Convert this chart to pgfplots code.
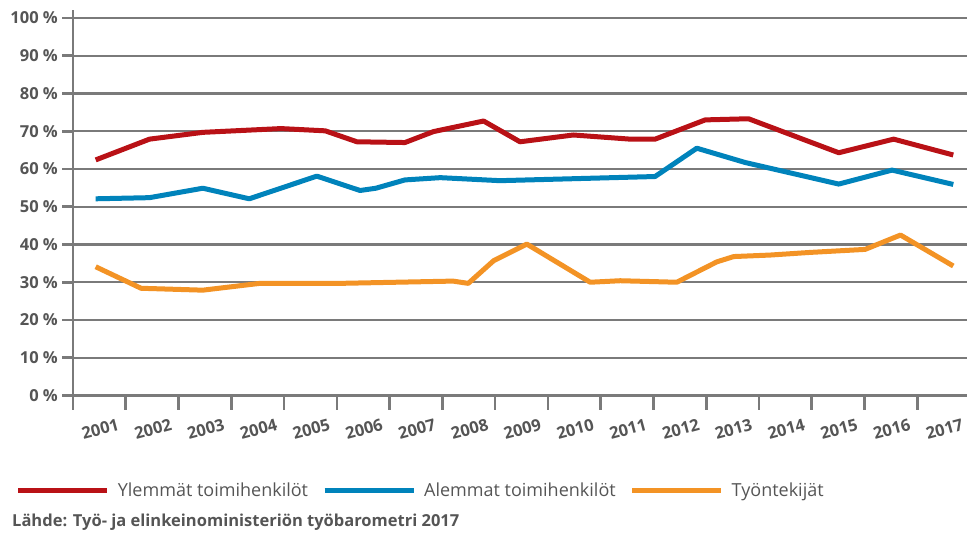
\documentclass[border=0pt]{standalone}
\usepackage{fontspec}
\setmainfont{Open Sans}
\usepackage{pgfplots}
\pgfplotsset{compat=1.18}

\definecolor{ylem}{HTML}{B91116}
\definecolor{alem}{HTML}{0083BB}
\definecolor{tyon}{HTML}{F39325}
\definecolor{gridc}{HTML}{7A7A7A}
\definecolor{txt}{HTML}{555555}

\begin{document}
\begin{tikzpicture}
\useasboundingbox (-73pt,-140.5pt) rectangle (894pt,395.5pt);
\begin{axis}[
  at={(0,0)}, anchor=south west,
  scale only axis, width=894pt, height=385.1pt,
  xmin=2000.5, xmax=2017.44, ymin=0, ymax=102,
  axis lines=left, axis line style={gridc, line width=2.6pt, -},
  ytick={0,10,...,100},
  yticklabel={\pgfmathprintnumber[assume math mode=true]{\tick}\ \%},
  xtick={2001,...,2017},
  xticklabels={2001,2002,2003,2004,2005,2006,2007,2008,2009,2010,2011,2012,2013,2014,2015,2016,2017},
  minor xtick={2000.5,2001.5,...,2016.5},
  major x tick style={draw=none},
  tick align=outside, major tick length=11pt, minor tick length=14pt,
  tick style={gridc, line width=2.6pt},
  ymajorgrids=true,
  major grid style={gridc, line width=2.2pt},
  tick label style={font=\fontsize{16.5}{18}\selectfont\bfseries, text=txt, inner sep=1pt},
  yticklabel style={xshift=-3pt},
  xticklabel style={rotate=15, anchor=center, xshift=-5pt, yshift=-22pt, font=\fontsize{16.5}{18}\selectfont\bfseries},
  legend columns=3,
  legend style={at={(-0.0642,-0.2454)}, anchor=west, draw=none, fill=none,
    inner sep=0pt, font=\fontsize{18}{20}\selectfont, text=txt,
    /tikz/every odd column/.append style={column sep=6pt},
    /tikz/every even column/.append style={column sep=12pt}},
  legend image code/.code={\draw[line width=5pt] (0pt,0pt) -- (89pt,0pt);},
  every axis plot/.append style={line width=5pt, line join=round},
  clip=false,
]
\addplot[ylem] coordinates {
  (2000.93,62.4) (2001.95,67.9) (2002.96,69.7) (2004.44,70.7) (2005.28,70.1)
  (2005.88,67.2) (2006.79,67.0) (2007.33,69.9) (2008.28,72.7) (2008.97,67.2)
  (2009.98,69.0) (2011.06,67.9) (2011.53,67.9) (2012.48,73.0) (2013.30,73.3)
  (2015.01,64.3) (2016.05,67.9) (2017.18,63.7)};
\addlegendentry{Ylemmät toimihenkilöt}
\addplot[alem] coordinates {
  (2000.93,52.1) (2001.95,52.4) (2002.96,54.9) (2003.84,52.1) (2005.12,58.1)
  (2005.94,54.3) (2006.24,54.9) (2006.79,57.1) (2007.46,57.7) (2008.59,56.9)
  (2011.53,58.0) (2012.32,65.5) (2013.24,61.7) (2015.01,56.0) (2016.02,59.7)
  (2017.18,55.9)};
\addlegendentry{Alemmat toimihenkilöt}
\addplot[tyon] coordinates {
  (2000.93,34.1) (2001.79,28.4) (2002.96,27.9) (2004.04,29.7) (2005.56,29.7)
  (2007.70,30.3) (2007.99,29.7) (2008.47,35.7) (2009.10,40.1) (2010.30,30.0)
  (2010.87,30.4) (2011.94,30.0) (2012.70,35.4) (2013.02,36.8) (2013.71,37.2)
  (2014.47,37.9) (2015.51,38.7) (2016.18,42.5) (2017.18,34.3)};
\addlegendentry{Työntekijät}
\end{axis}
\node[anchor=west, inner sep=0pt, text=txt, font=\fontsize{16.5}{18}\selectfont\bfseries]
  at (-61pt,-126.5pt) {Lähde: Työ- ja elinkeinoministeriön työbarometri 2017};
\end{tikzpicture}
\end{document}
